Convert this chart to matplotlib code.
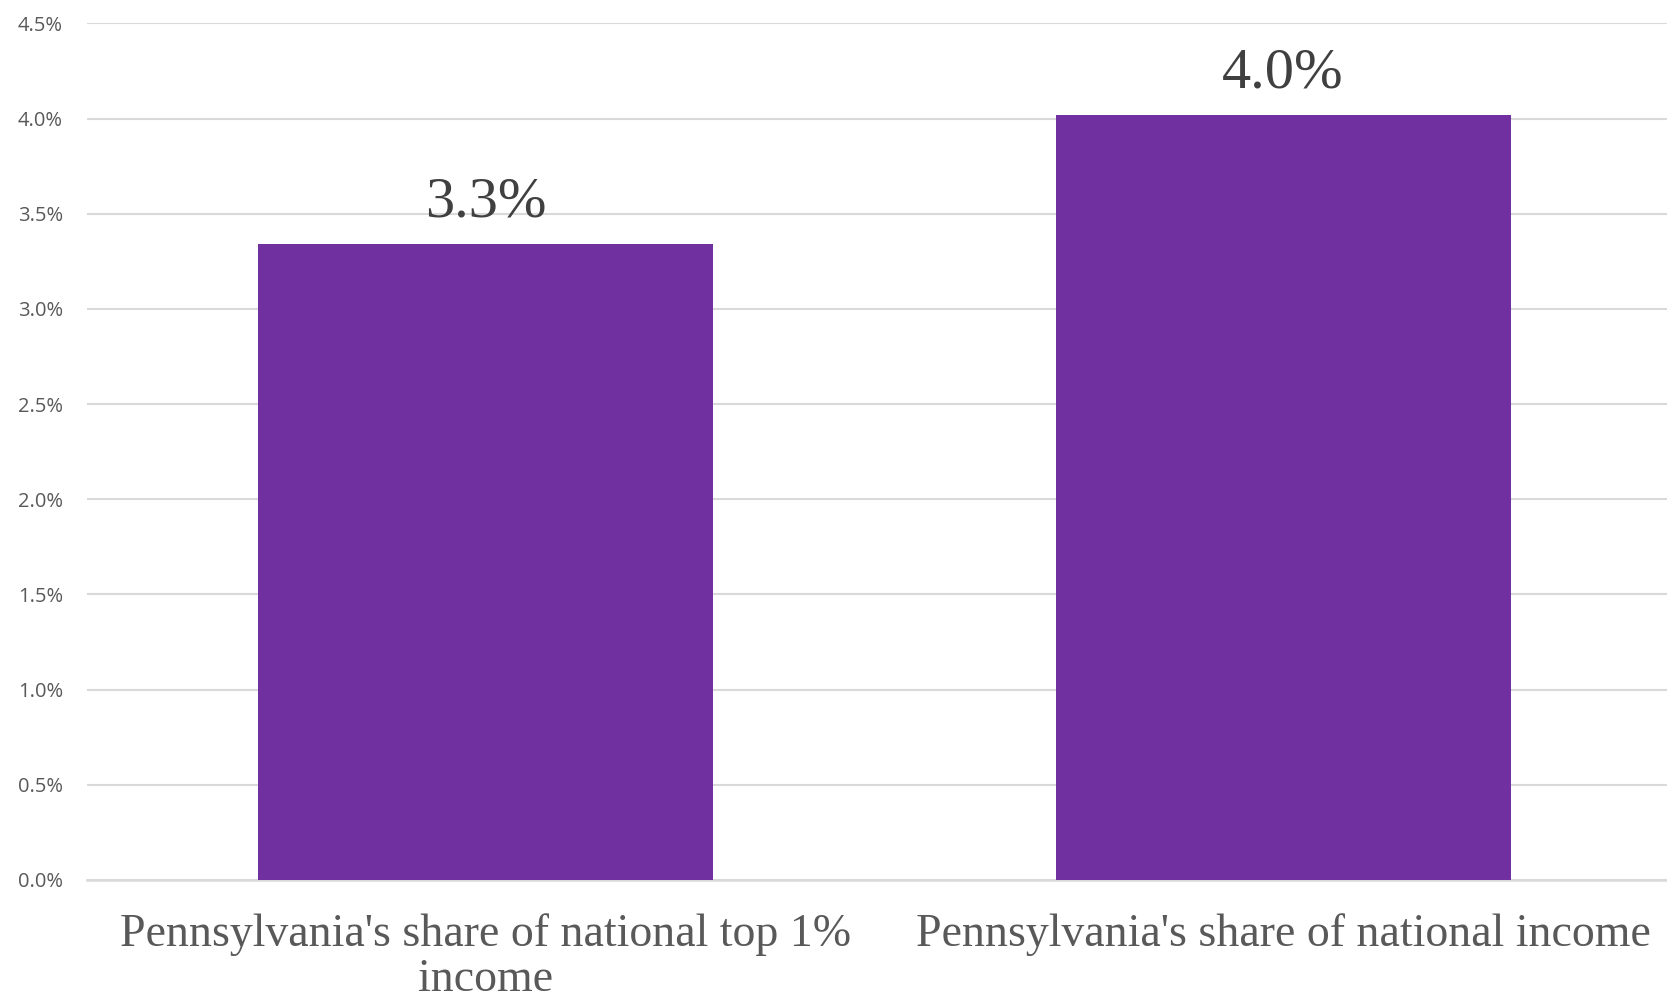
import matplotlib.pyplot as plt
from matplotlib.ticker import FuncFormatter

categories = ["Pennsylvania's share of national top 1%\nincome",
              "Pennsylvania's share of national income"]
shares = [3.34, 4.02]
labels = ["3.3%", "4.0%"]
yticks = [0.0, 0.5, 1.0, 1.5, 2.0, 2.5, 3.0, 3.5, 4.0, 4.5]

fig = plt.figure(figsize=(16.67, 9.97), dpi=100)
ax = fig.add_axes([0.052, 0.1174, 0.957, 0.8591])

x = range(len(categories))
bars = ax.bar(x, shares, width=0.57, color="#7030A0", zorder=3)

for b, lab in zip(bars, labels):
    ax.annotate(lab, (b.get_x() + b.get_width() / 2, b.get_height()),
                xytext=(0, 11), textcoords="offset points", ha="center", va="bottom",
                family="Liberation Serif", fontsize=42, color="#404040")

ax.set_xlim(-0.5, 1.5)
ax.set_ylim(0, 4.5)
ax.set_yticks(yticks)
ax.yaxis.set_major_formatter(FuncFormatter(lambda v, p: f"{v:.1f}%"))
ax.grid(axis="y", color="#d9d9d9", lw=1.5, zorder=0)
ax.set_xticks(list(x))
ax.set_xticklabels(categories, family="Liberation Serif", fontsize=33, color="#595959",
                   linespacing=1.08)
ax.tick_params(axis="x", length=0, pad=24)
ax.tick_params(axis="y", length=0, pad=17, labelsize=14.5, labelcolor="#595959")
for lab in ax.get_yticklabels():
    lab.set_family("Open Sans")

for s in ["top", "right", "left"]:
    ax.spines[s].set_visible(False)
ax.spines["bottom"].set_color("#d9d9d9")
ax.spines["bottom"].set_linewidth(1.8)

plt.savefig("out.png", dpi=100)
